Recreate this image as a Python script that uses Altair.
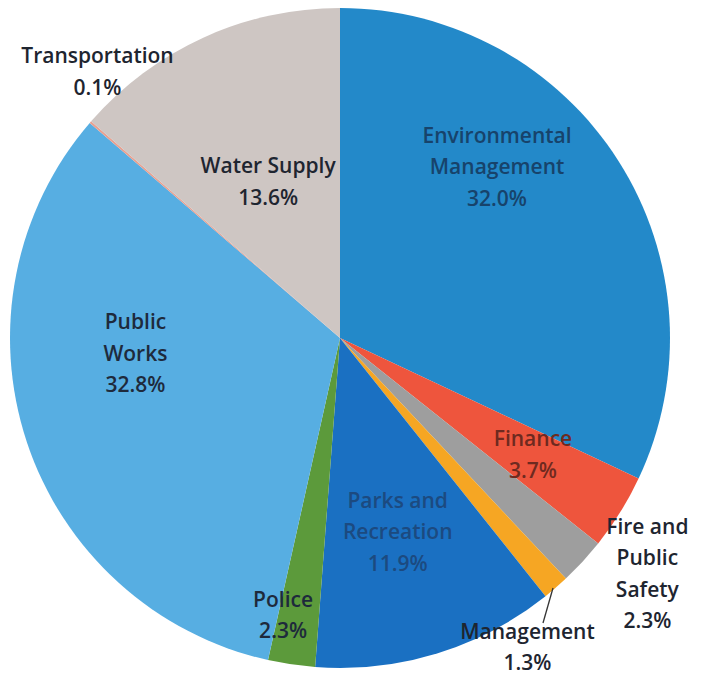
import altair as alt
import pandas as pd

categories = ["Environmental Management", "Finance", "Fire and Public Safety", "Management",
              "Parks and Recreation", "Police", "Public Works", "Transportation", "Water Supply"]
values = [32.0, 3.7, 2.3, 1.3, 11.9, 2.3, 32.8, 0.1, 13.6]
label_lines = ["Environmental|Management", "Finance", "Fire and|Public|Safety", "Management",
               "Parks and|Recreation", "Police", "Public|Works", "Transportation", "Water Supply"]
colors = ["#2389C9", "#EE553D", "#9E9E9E", "#F6A623", "#1A70C2", "#5C9A3B", "#57AEE2", "#E8A090", "#CEC6C3"]

df = pd.DataFrame({
    "category": categories,
    "value": values,
    "order": list(range(len(categories))),
    "label": [f"{l}|{v:.1f}%" for l, v in zip(label_lines, values)],
})

theta_scale = alt.Scale(domain=[0, 100], range=[0, 6.283185307179586])

base = alt.Chart(df).transform_window(
    v1="sum(value)", sort=[alt.SortField("order")], frame=[None, 0]
).transform_calculate(
    v0="datum.v1 - datum.value",
    mid="datum.v1 - datum.value / 2",
    lines="split(datum.label, '|')",
)

pie = base.mark_arc(radius=330).encode(
    theta=alt.Theta("v0:Q", scale=theta_scale),
    theta2="v1:Q",
    color=alt.Color("category:N", scale=alt.Scale(domain=categories, range=colors), legend=None),
)

# label placement: (radius, dx, dy, text colour)
placement = {
    "Environmental Management": (231, -38, -77.5, "#17436B"),
    "Finance": (226, 1, -17, "#6E2A20"),
    "Fire and Public Safety": (388, 22, -73, "#1E2530"),
    "Management": (363, -50, 20, "#1E2530"),
    "Parks and Recreation": (203, -2, -30.5, "#1C4A80"),
    "Police": (285, -15, -19, "#1E2A3C"),
    "Public Works": (205, -10, -79.5, "#1E2A3C"),
    "Transportation": (359, 29, -46, "#1E2530"),
    "Water Supply": (171, -1, -15, "#1E2530"),
}

layers = [pie]
for cat, (r, dx, dy, col) in placement.items():
    layers.append(
        base.transform_filter(alt.datum.category == cat).mark_text(
            radius=r, dx=dx, dy=dy, font="Open Sans", fontSize=21, fontWeight=600,
            color=col, lineHeight=31.5, align="center", baseline="middle",
        ).encode(
            theta=alt.Theta("mid:Q", scale=theta_scale),
            text=alt.Text("lines:N"),
        )
    )

leader = alt.Chart(pd.DataFrame({"k": [0]})).mark_rule(color="#333333", strokeWidth=1.3).encode(
    x=alt.value(545), y=alt.value(580), x2=alt.value(535), y2=alt.value(615)
)
layers.append(leader)

chart = alt.layer(*layers).properties(
    width=664, height=660, padding=0, background="white"
).configure_view(stroke=None)

chart.save("out.html", embed_options={"renderer": "svg", "actions": False})
